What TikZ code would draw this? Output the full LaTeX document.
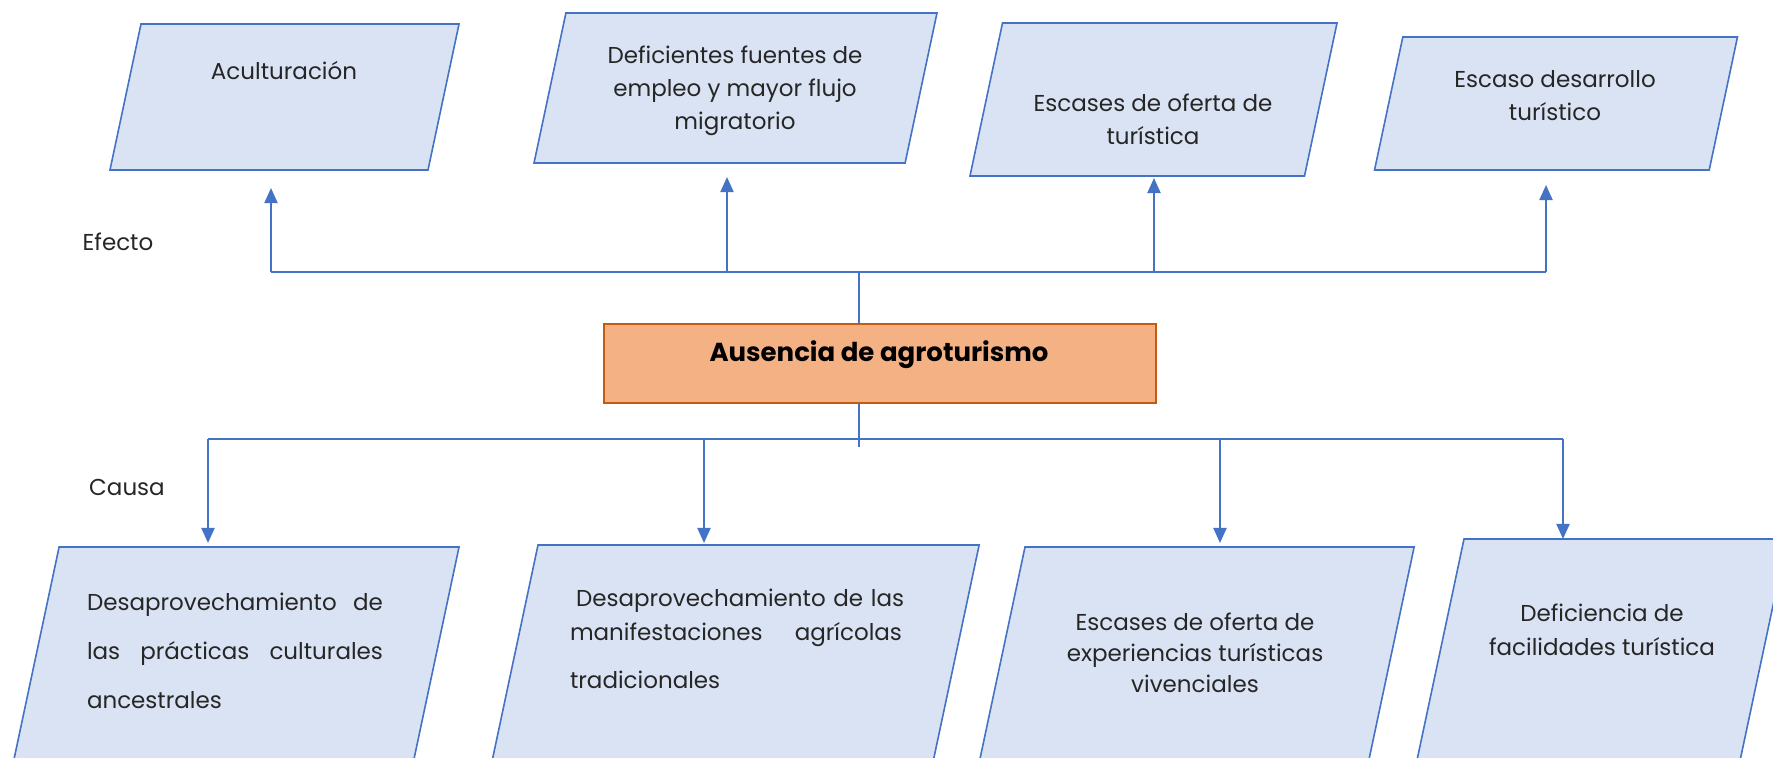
\documentclass[tikz,border=0pt]{standalone}
\usepackage{fontspec}
\setmainfont{Poppins}
\usepackage{tikz}
\usetikzlibrary{calc}
\usetikzlibrary{arrows.meta}
\usetikzlibrary{shapes.geometric}
\definecolor{boxblue}{RGB}{218,227,243}
\definecolor{lineblue}{RGB}{68,114,196}
\definecolor{boxorange}{RGB}{244,177,131}
\definecolor{edgeorange}{RGB}{197,90,17}
\tikzset{
	boxstyle/.style={trapezium,trapezium left angle=78,trapezium right angle=102,draw=lineblue,fill=boxblue,line width=0.8pt,outer sep=0pt},
	problemstyle/.style={rectangle,draw=edgeorange,fill=boxorange,line width=1pt,minimum width=276pt,minimum height=39.5pt,inner sep=0pt,outer sep=0pt},
	textstyle/.style={align=center,inner sep=0pt,text=black!85,font=\fontsize{11.5}{16.5}\selectfont},
	linkstyle/.style={draw=lineblue,line width=1pt},
	stemstyle/.style={draw=lineblue,line width=0.7pt},
	arrowstyle/.style={draw=lineblue,line width=1pt,-{Triangle[length=7.5pt,width=6.5pt]}}
}
\begin{document}
\begin{tikzpicture}[x=0.5pt,y=-0.5pt]
	\useasboundingbox (0,0) rectangle (1773,757);
	\clip (0,0) rectangle (1773,757);
	% efectos
	\node[boxstyle,inner xsep=71.75pt,inner ysep=36.5pt] (e1) at (284.5,97) {};
	\node[boxstyle,inner xsep=84.8pt,inner ysep=37.5pt] (e2) at (735.5,88) {};
	\node[boxstyle,inner xsep=75.5pt,inner ysep=38.25pt] (e3) at (1153.5,99.5) {};
	\node[boxstyle,inner xsep=76.6pt,inner ysep=33.25pt] (e4) at (1556,103.5) {};
	\node[textstyle] (e1t) at (284,71) {Aculturación};
	\node[textstyle] (e2t) at (735,91) {Deficientes fuentes de\\empleo y mayor flujo\\migratorio};
	\node[textstyle] (e3t) at (1153,119) {Escases de oferta de\\turística};
	\node[textstyle] (e4t) at (1555,95.5) {Escaso desarrollo\\turístico};
	% problema
	\node[problemstyle] (p) at (880,363.5) {};
	\node[textstyle,font=\fontsize{13}{16}\selectfont\bfseries,text=black] (pt) at (879,355) {Ausencia de agroturismo};
	% causas
	\node[boxstyle,inner xsep=86.7pt,inner ysep=62.5pt] (c1) at (232.5,672) {};
	\node[boxstyle,inner xsep=97pt,inner ysep=62.5pt] (c2) at (732,670) {};
	\node[boxstyle,inner xsep=84pt,inner ysep=62.5pt] (c3) at (1193,672) {};
	\node[boxstyle,inner xsep=67.5pt,inner ysep=62.5pt] (c4) at (1599,664) {};
	\node[textstyle,text width=148pt,align=left,font=\fontsize{11.5}{24.5}\selectfont] (c1t) at (235,651) {Desaprovechamiento\hfill de\\las\hfill prácticas\hfill culturales\\ancestrales};
	\node[textstyle,text width=166pt,align=left,font=\fontsize{11.5}{17}\selectfont] (c2t) at (736,639) {\mbox{\hspace*{3pt}Desaprovechamiento de las}\\manifestaciones\hfill agrícolas\\[7pt]tradicionales};
	\node[textstyle,font=\fontsize{11.5}{15.5}\selectfont] (c3t) at (1195,653) {Escases de oferta de\\experiencias turísticas\\vivenciales};
	\node[textstyle,font=\fontsize{11.5}{17}\selectfont] (c4t) at (1602,630) {Deficiencia de\\facilidades turística};
	% etiquetas
	\node[textstyle] (efecto) at (118,242) {Efecto};
	\node[textstyle] (causa) at (127,487) {Causa};
	% conectores
	\coordinate (u0) at (859,272);
	\coordinate (u1) at (271,272);
	\coordinate (u2) at (727,272);
	\coordinate (u3) at (1154,272);
	\coordinate (u4) at (1546,272);
	\coordinate (d0) at (859,447);
	\coordinate (d1) at (208,439);
	\coordinate (d2) at (704,439);
	\coordinate (d3) at (1220,439);
	\coordinate (d4) at (1563,439);
	\draw[stemstyle] (u0 |- p.north)--(u0);
	\draw[linkstyle] (u1)--(u4);
	\draw[arrowstyle,shorten >=9pt] (u1)--(u1 |- e1.south);
	\draw[arrowstyle,shorten >=7pt] (u2)--(u2 |- e2.south);
	\draw[arrowstyle,shorten >=1pt] (u3)--(u3 |- e3.south);
	\draw[arrowstyle,shorten >=7.5pt] (u4)--(u4 |- e4.south);
	\draw[stemstyle] (d0 |- p.south)--(d0);
	\draw[linkstyle] (d1)--(d4);
	\draw[arrowstyle,shorten >=2pt] (d1)--(d1 |- c1.north);
	\draw[arrowstyle,shorten >=1pt] (d2)--(d2 |- c2.north);
	\draw[arrowstyle,shorten >=2pt] (d3)--(d3 |- c3.north);
	\draw[arrowstyle] (d4)--(d4 |- c4.north);
\end{tikzpicture}
\end{document}
